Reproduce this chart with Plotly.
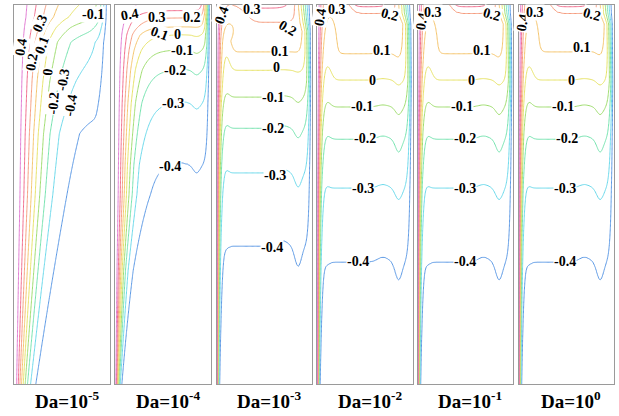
import numpy as np
import plotly.graph_objects as go

# ---------------- data ----------------
da_exponents = ["-5", "-4", "-3", "-2", "-1", "0"]
contour_levels = [-0.4, -0.3, -0.2, -0.1, 0.0, 0.1, 0.2, 0.3, 0.4]
level_colors = ["#5b98e4", "#6ad8ea", "#74e2ae", "#9edc6e", "#e6e266",
                "#f4c46c", "#f59c7e", "#f06c8c", "#e07ad2"]

# interior isotherm heights (fraction of cavity height, from bottom) and values
strat_y = [
    [0.0, 0.5, 0.66, 0.71, 0.902, 0.94, 0.968, 1.0],
    [0.0, 0.578, 0.741, 0.828, 0.881, 0.921, 0.942, 0.966, 0.985, 1.0],
    [0.0, 0.364, 0.557, 0.675, 0.757, 0.828, 0.876, 0.955, 0.992, 1.0],
    [0.0, 0.322, 0.517, 0.646, 0.731, 0.802, 0.871, 0.979, 0.995, 1.0],
    [0.0, 0.322, 0.517, 0.646, 0.731, 0.802, 0.871, 0.979, 0.995, 1.0],
    [0.0, 0.322, 0.517, 0.646, 0.731, 0.802, 0.876, 0.979, 0.995, 1.0],
]
strat_T = [
    [-0.47, -0.45, -0.43, -0.4, -0.3, -0.2, -0.1, -0.06],
    [-0.49, -0.4, -0.3, -0.2, -0.1, 0.0, 0.1, 0.2, 0.3, 0.36],
    [-0.48, -0.4, -0.3, -0.2, -0.1, 0.0, 0.1, 0.2, 0.3, 0.33],
    [-0.48, -0.4, -0.3, -0.2, -0.1, 0.0, 0.1, 0.2, 0.3, 0.32],
    [-0.48, -0.4, -0.3, -0.2, -0.1, 0.0, 0.1, 0.2, 0.3, 0.32],
    [-0.48, -0.4, -0.3, -0.2, -0.1, 0.0, 0.1, 0.2, 0.3, 0.32],
]
# hot-wall (left) layer thickness vs height
hot_layer_y = [[0, 0.5, 0.8, 1.0], [0, 0.3, 0.5, 0.8, 1.0], [0, 0.5, 1.0],
               [0, 0.5, 1.0], [0, 0.5, 1.0], [0, 0.5, 1.0]]
hot_layer_d = [[0.12, 0.27, 0.33, 0.40], [0.04, 0.09, 0.14, 0.18, 0.20],
               [0.018, 0.03, 0.05], [0.018, 0.03, 0.05], [0.018, 0.03, 0.05],
               [0.018, 0.03, 0.05]]
# cold-wall (right) layer thickness vs height
cold_layer_y = [[0, 1.0], [0, 0.9, 1.0], [0, 0.8, 0.93, 1.0],
                [0, 0.8, 0.95, 1.0], [0, 0.8, 0.95, 1.0], [0, 0.8, 0.95, 1.0]]
cold_layer_d = [[0.09, 0.09], [0.035, 0.035, 0.05], [0.03, 0.035, 0.06, 0.12],
                [0.035, 0.035, 0.06, 0.12], [0.035, 0.035, 0.06, 0.12],
                [0.035, 0.035, 0.06, 0.12]]
# rise of the isotherms next to the hot layer (amplitude & width vs height)
rise_y = [[0, 1.0], [0, 1.0],
          [0, 0.35, 0.577, 0.70, 0.78, 0.905, 0.955, 1.0],
          [0, 0.312, 0.527, 0.664, 0.757, 0.86, 0.98, 1.0],
          [0, 0.312, 0.527, 0.664, 0.757, 0.86, 0.98, 1.0],
          [0, 0.312, 0.527, 0.664, 0.757, 0.86, 0.98, 1.0]]
rise_amp = [[0, 0], [0, 0],
            [-0.012, -0.012, 0.02, 0.025, 0.025, 0.077, 0.08, 0.05],
            [-0.012, -0.012, 0.01, 0.018, 0.026, 0.058, 0.11, 0.11],
            [-0.012, -0.012, 0.01, 0.018, 0.026, 0.058, 0.11, 0.11],
            [-0.012, -0.012, 0.01, 0.018, 0.026, 0.058, 0.11, 0.11]]
rise_wy = [[0, 1.0], [0, 1.0], [0, 0.4, 0.7, 0.78, 0.905, 0.955, 1.0],
           [0, 0.4, 0.757, 0.86, 0.98, 1.0], [0, 0.4, 0.757, 0.86, 0.98, 1.0],
           [0, 0.4, 0.757, 0.86, 0.98, 1.0]]
rise_w = [[0.1, 0.1], [0.1, 0.1], [0.17, 0.12, 0.12, 0.13, 0.15, 0.3, 0.3],
          [0.18, 0.12, 0.14, 0.17, 0.3, 0.3], [0.18, 0.12, 0.14, 0.17, 0.3, 0.3],
          [0.18, 0.12, 0.14, 0.17, 0.3, 0.3]]
# dip of the isotherms before the cold layer (amplitude vs height)
dip_y = [[0, 0.65, 0.71, 0.78, 1.0],
         [0, 0.56, 0.73, 0.82, 0.88, 0.95, 1.0],
         [0, 0.31, 0.52, 0.666, 0.752, 0.825, 0.9, 1.0],
         [0, 0.275, 0.49, 0.612, 0.711, 0.789, 0.86, 0.95, 1.0],
         [0, 0.275, 0.49, 0.612, 0.711, 0.789, 0.86, 0.95, 1.0],
         [0, 0.275, 0.49, 0.612, 0.711, 0.789, 0.86, 0.95, 1.0]]
dip_amp = [[0, 0, 0.012, 0, 0],
           [0.02, 0.02, 0.015, 0.012, 0.008, 0, 0],
           [0.05, 0.053, 0.037, 0.024, 0.013, 0.005, 0, 0],
           [0.047, 0.047, 0.03, 0.034, 0.02, 0.013, 0.01, 0, 0],
           [0.047, 0.047, 0.03, 0.034, 0.02, 0.013, 0.01, 0, 0],
           [0.047, 0.047, 0.03, 0.034, 0.02, 0.013, 0.01, 0, 0]]

# contour labels: text, x, y (fractions of each panel), rotation
label_text = ["0.4", "0.3", "0.2", "0.1", "0", "-0.1", "-0.2", "-0.3", "-0.4"]
label_x = [
    [0.07, 0.27, 0.19, 0.29, 0.35, 0.83, 0.41, 0.51, 0.59],
    [0.16, 0.44, 0.81, 0.47, 0.65, 0.70, 0.63, 0.61, 0.58],
    [0.06, 0.37, 0.75, 0.66, 0.63, 0.59, 0.59, 0.61, 0.58],
    [0.03, 0.21, 0.76, 0.68, 0.58, 0.47, 0.50, 0.48, 0.43],
    [0.05, 0.16, 0.78, 0.68, 0.57, 0.47, 0.50, 0.50, 0.50],
    [0.04, 0.17, 0.77, 0.66, 0.56, 0.47, 0.51, 0.49, 0.49],
]
label_y = [
    [0.889, 0.952, 0.850, 0.894, 0.823, 0.974, 0.741, 0.802, 0.736],
    [0.974, 0.966, 0.966, 0.926, 0.921, 0.881, 0.828, 0.741, 0.573],
    [0.974, 0.987, 0.939, 0.876, 0.834, 0.757, 0.675, 0.551, 0.361],
    [0.968, 0.987, 0.974, 0.881, 0.802, 0.731, 0.649, 0.517, 0.322],
    [0.958, 0.979, 0.974, 0.881, 0.802, 0.731, 0.649, 0.517, 0.322],
    [0.955, 0.979, 0.974, 0.887, 0.802, 0.731, 0.649, 0.517, 0.322],
]
label_rot = [
    [-80, -65, -80, -70, -85, 0, -85, -80, -80],
    [-10, 0, 0, 20, 0, 0, 0, 0, 0],
    [-70, 0, 30, 0, 0, 0, 0, 0, 0],
    [-80, 0, 15, 0, 0, 0, 0, 0, 0],
    [-80, 0, 15, 0, 0, 0, 0, 0, 0],
    [-80, 0, 15, 0, 0, 0, 0, 0, 0],
]

# ---------------- layout geometry (pixels of the 619x416 page) ----------------
W, H = 619, 416
panel_left = [14, 115, 216.5, 317, 417.5, 518.5]
panel_w = 95.5
panel_top, panel_bot = 5, 384

# ---------------- field construction ----------------
s = np.linspace(0, 1, 121)
xg = 0.5 * (1 - np.cos(np.pi * s))
yg = np.linspace(0, 1, 301)
X, Y = np.meshgrid(xg, yg)


def build_field(p):
    amp = np.interp(Y, rise_y[p], rise_amp[p])
    wid = np.interp(Y, rise_wy[p], rise_w[p])
    rise = amp * np.exp(-(X / wid) ** 4)
    shape = np.exp(-((X - 0.855) / 0.05) ** 2) - 0.3 * np.exp(-((X - 0.69) / 0.08) ** 2)
    dip = np.interp(Y, dip_y[p], dip_amp[p]) * shape
    Ti = np.interp(Y - rise + dip, strat_y[p], strat_T[p])
    dL = np.interp(Y, hot_layer_y[p], hot_layer_d[p])
    dR = np.interp(Y, cold_layer_y[p], cold_layer_d[p])
    wL = np.exp(-(X / dL) ** 1.5)
    wR = np.exp(-((1 - X) / dR) ** 1.5)
    T = Ti + (0.5 - Ti) * wL + (-0.5 - Ti) * wR
    return np.round(T, 4)


n = len(contour_levels)
colorscale = [[i / (n - 1), c] for i, c in enumerate(level_colors)]

fig = go.Figure()
annotations = []
layout = {}
for p in range(6):
    k = "" if p == 0 else str(p + 1)
    fig.add_trace(go.Contour(
        x=xg, y=yg, z=build_field(p), xaxis="x" + k, yaxis="y" + k,
        zmin=contour_levels[0], zmax=contour_levels[-1],
        colorscale=colorscale, showscale=False, hoverinfo="skip",
        contours=dict(coloring="lines", start=contour_levels[0],
                      end=contour_levels[-1], size=0.1, showlabels=False),
        line=dict(width=1),
    ))
    x0 = panel_left[p] / W
    x1 = (panel_left[p] + panel_w) / W
    layout["xaxis" + k] = dict(domain=[x0, x1], range=[0, 1], showgrid=False,
                               zeroline=False, showticklabels=False, ticks="",
                               showline=True, mirror=True, linecolor="#9a9a9a",
                               linewidth=1, anchor="y" + k, fixedrange=True)
    layout["yaxis" + k] = dict(domain=[1 - panel_bot / H, 1 - panel_top / H],
                               range=[0, 1], showgrid=False, zeroline=False,
                               showticklabels=False, ticks="", showline=True,
                               mirror=True, linecolor="#9a9a9a", linewidth=1,
                               anchor="x" + k, fixedrange=True)
    for j, t in enumerate(label_text):
        annotations.append(dict(
            x=label_x[p][j], y=label_y[p][j], xref="x" + k, yref="y" + k,
            text=t, showarrow=False, textangle=label_rot[p][j],
            font=dict(family="Liberation Serif", size=14, color="black", weight="bold"),
            bgcolor="white", borderpad=0,
        ))
    annotations.append(dict(
        x=(panel_left[p] + panel_w / 2 + 5) / W, y=1 - 386 / H,
        xref="paper", yref="paper", xanchor="center", yanchor="top",
        text="Da=10<sup>" + da_exponents[p] + "</sup>", showarrow=False,
        font=dict(family="Liberation Serif", size=19, color="black", weight="bold"),
    ))

fig.update_layout(width=W, height=H, margin=dict(l=0, r=0, t=0, b=0),
                  paper_bgcolor="white", plot_bgcolor="white",
                  showlegend=False, annotations=annotations, **layout)
fig.write_html("out.html")
